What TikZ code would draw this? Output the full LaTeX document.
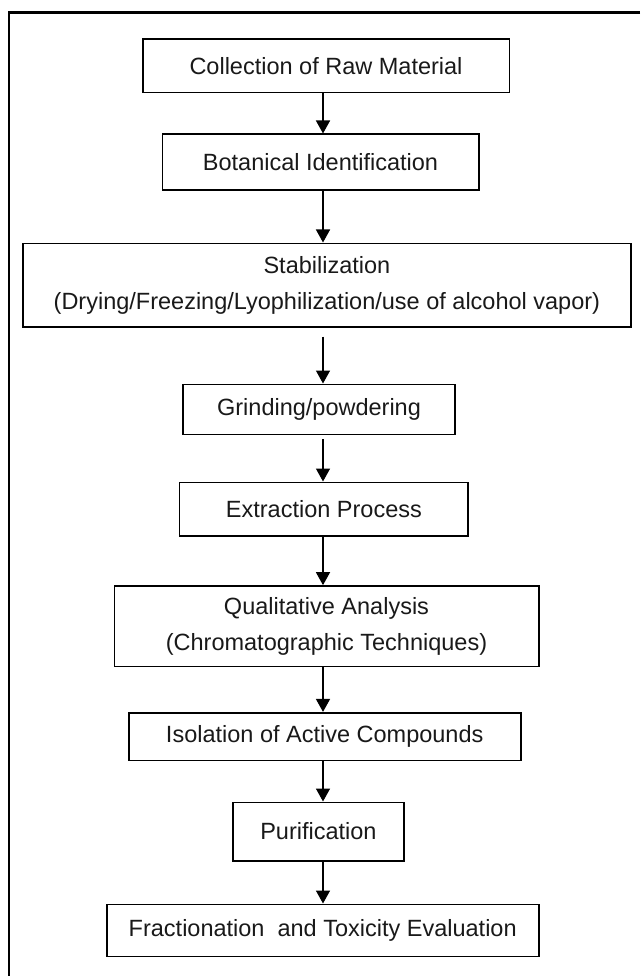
\documentclass[tikz,border=0pt]{standalone}
\usepackage{fontspec}
\setmainfont{Liberation Sans}
\usetikzlibrary{arrows.meta}
\tikzstyle{stepBox}=[shape = rectangle, draw, line width = 1.6pt, inner sep = 0pt, align = center, text = black!90, font = \fontsize{23.5}{36}\selectfont]
\tikzstyle{flowArrow}=[line width = 1.5pt, -{Triangle[width = 14pt, length = 13pt]}]

\begin{document}
\begin{tikzpicture}[x = 1pt, y = -1pt]
\useasboundingbox (0,0) rectangle (640,976);
\tikzstyle{frameLine}=[line width = 2.4pt]
\draw[frameLine] (640,12.7) -- (8.7,12.7) -- (8.7,976);
\coordinate (ax) at (323,0);
\node[stepBox, minimum width = 366.6pt, minimum height = 53.4pt] (v0) at (326,66) {Collection of Raw Material};
\node[stepBox, minimum width = 316.4pt, minimum height = 56pt] (v1) at (320.5,162.3) {Botanical Identification};
\node[stepBox, minimum width = 608.3pt, minimum height = 83.4pt] (v2) at (326.9,285) {Stabilization\\(Drying/Freezing/Lyophilization/use of alcohol vapor)};
\node[stepBox, minimum width = 272.2pt, minimum height = 50pt] (v3) at (319,409.3) {Grinding/powdering};
\node[stepBox, minimum width = 288.6pt, minimum height = 53.4pt] (v4) at (323.9,509) {Extraction Process};
\node[stepBox, minimum width = 424.4pt, minimum height = 80.7pt] (v5) at (326.5,626.3) {Qualitative Analysis\\(Chromatographic Techniques)};
\node[stepBox, minimum width = 392pt, minimum height = 47.6pt] (v6) at (324.7,736.5) {Isolation of Active Compounds};
\node[stepBox, minimum width = 171.3pt, minimum height = 58.4pt] (v7) at (318.4,831.5) {Purification};
\node[stepBox, minimum width = 432pt, minimum height = 52pt] (v8) at (322.7,930.3) {Fractionation\ \ and Toxicity Evaluation};
\draw[flowArrow] (v0.south -| ax) -- (v1.north -| ax);
\draw[flowArrow] (v1.south -| ax) -- (v2.north -| ax);
\draw[flowArrow, shorten <= 9pt] (v2.south -| ax) -- (v3.north -| ax);
\draw[flowArrow, shorten <= 4pt] (v3.south -| ax) -- (v4.north -| ax);
\draw[flowArrow] (v4.south -| ax) -- (v5.north -| ax);
\draw[flowArrow] (v5.south -| ax) -- (v6.north -| ax);
\draw[flowArrow] (v6.south -| ax) -- (v7.north -| ax);
\draw[flowArrow] (v7.south -| ax) -- (v8.north -| ax);
\end{tikzpicture}
\end{document}
